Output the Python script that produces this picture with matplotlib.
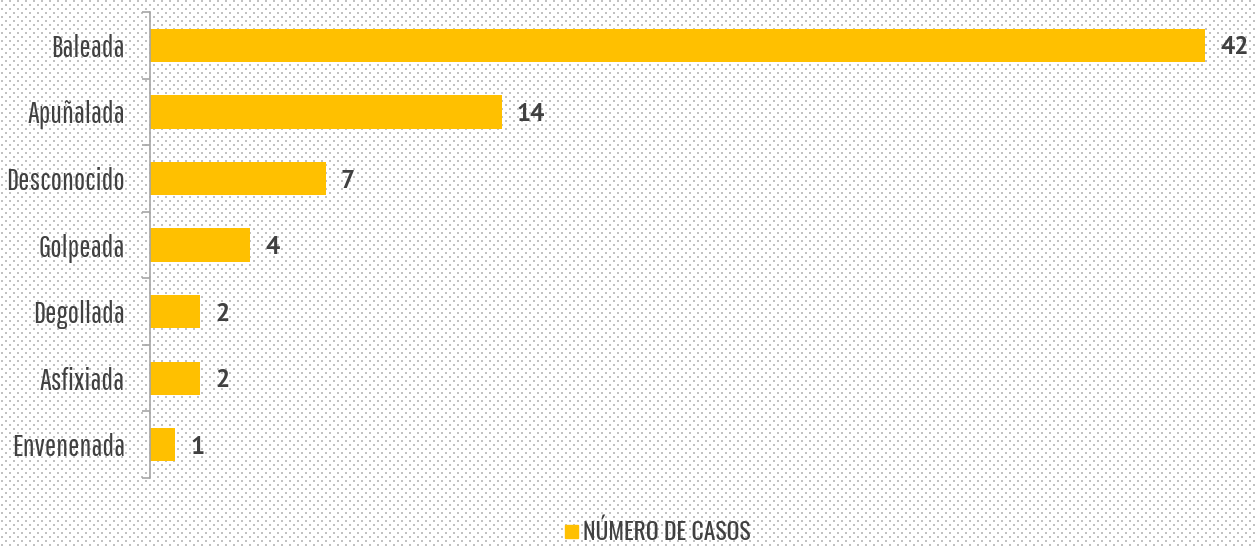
import matplotlib.pyplot as plt
import matplotlib.patches as mpatches
import numpy as np

categories = ["Baleada", "Apuñalada", "Desconocido", "Golpeada", "Degollada", "Asfixiada", "Envenenada"]
casos = [42, 14, 7, 4, 2, 2, 1]
legend_label = "NÚMERO DE CASOS"

bar_color = "#FFC000"
text_color = "#404040"
W, H = 1256, 546

label_font = ["Pathway Gothic One", "DejaVu Sans"]
value_font = ["PT Sans", "DejaVu Sans"]
legend_font = ["Oswald", "DejaVu Sans"]

fig = plt.figure(figsize=(W / 100, H / 100), dpi=100)

# dotted background, pixel exact
pat = np.ones((H, W, 3))
for r in range(0, H, 4):
    off = 1 if (r // 4) % 2 == 0 else 5
    for dy in (0, 1):
        if r + dy < H:
            for dx in (0, 1):
                pat[r + dy, off + dx::8] = 0.76
bg = fig.add_axes([0, 0, 1, 1], zorder=0)
bg.imshow(pat, interpolation="nearest", aspect="auto")
bg.axis("off")

ax = fig.add_axes([150 / W, (H - 478) / H, 1 - 150 / W, 466 / H], zorder=1)
ax.patch.set_alpha(0)

ypos = np.arange(len(categories))
ax.barh(ypos, casos, height=0.5, color=bar_color)
ax.set_ylim(len(categories) - 0.5, -0.5)
ax.set_xlim(0, (W - 150) / 25.12)

for y, v in zip(ypos, casos):
    ax.text(v + 0.6, y + 0.04, str(v), va="center", ha="left", fontsize=18,
            fontweight="bold", color=text_color, family=value_font)

ax.set_yticks(ypos)
ax.set_yticklabels(categories, family=label_font, fontsize=21.5, color=text_color)
ax.tick_params(axis="y", which="major", length=0, pad=18)
ax.set_yticks(np.arange(-0.5, len(categories), 1), minor=True)
ax.tick_params(axis="y", which="minor", length=6, width=1.2, color="#a6a6a6", direction="out")
ax.set_xticks([])

for s in ["top", "right", "bottom"]:
    ax.spines[s].set_visible(False)
ax.spines["left"].set_color("#a6a6a6")
ax.spines["left"].set_linewidth(1.2)

# legend
fig.patches.append(mpatches.Rectangle((565 / W, (H - 538) / H), 13 / W, 13 / H,
                                      transform=fig.transFigure, color=bar_color, zorder=3))
fig.text(583 / W, (H - 531) / H, legend_label, va="center", ha="left", fontsize=17,
         fontweight="medium", family=legend_font, color=text_color, zorder=3)

fig.savefig("out.png", dpi=100)
